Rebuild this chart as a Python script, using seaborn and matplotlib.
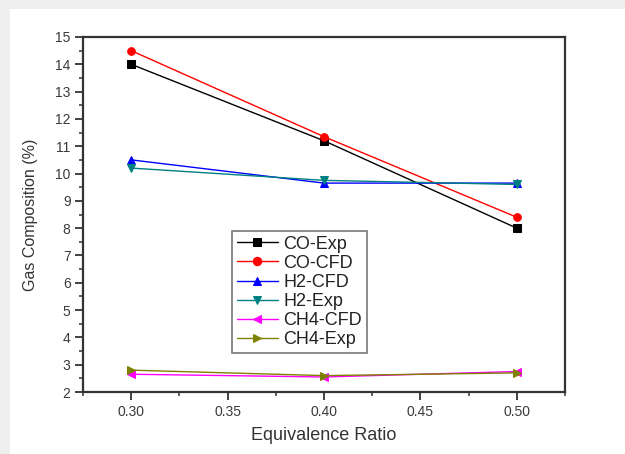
import matplotlib
matplotlib.use("Agg")
import matplotlib.pyplot as plt
import seaborn as sns
import pandas as pd
from matplotlib.ticker import MultipleLocator
from matplotlib.patches import Rectangle

equivalence_ratio = [0.30, 0.40, 0.50]
co_exp = [14.0, 11.2, 8.0]
co_cfd = [14.5, 11.35, 8.4]
h2_cfd = [10.5, 9.65, 9.65]
h2_exp = [10.2, 9.75, 9.6]
ch4_cfd = [2.65, 2.55, 2.75]
ch4_exp = [2.8, 2.6, 2.7]

series_names = ["CO-Exp", "CO-CFD", "H2-CFD", "H2-Exp", "CH4-CFD", "CH4-Exp"]
series_values = [co_exp, co_cfd, h2_cfd, h2_exp, ch4_cfd, ch4_exp]
colors = ["#000000", "#ff0000", "#0000ff", "#008080", "#ff00ff", "#808000"]
markers = ["s", "o", "^", "v", "<", ">"]

sns.set_style("white")
plt.rcParams["font.family"] = ["Liberation Sans", "DejaVu Sans"]

fig = plt.figure(figsize=(6.25, 4.54), dpi=100)
fig.patch.set_facecolor("#eeeeee")
bg = fig.add_axes([10 / 625, 0, 1, (454 - 9) / 454])
bg.set_axis_off()
bg.add_patch(Rectangle((0, 0), 1, 1, transform=bg.transAxes, facecolor="white", edgecolor="none"))
bg.set_zorder(0)

ax = fig.add_axes([83 / 625, (454 - 392) / 454, (565 - 83) / 625, (392 - 37) / 454])
ax.set_zorder(2)

rows = []
for name, vals in zip(series_names, series_values):
    for x, v in zip(equivalence_ratio, vals):
        rows.append({"Equivalence Ratio": x, "Value": v, "Series": name})
df = pd.DataFrame(rows)

for name, c, m in zip(series_names, colors, markers):
    sub = df[df["Series"] == name]
    sns.lineplot(data=sub, x="Equivalence Ratio", y="Value", ax=ax, color=c, marker=m,
                 markersize=5.5, markeredgecolor=c, linewidth=1.0, label=name)

ax.set_xlim(0.275, 0.525)
ax.set_ylim(2, 15)
ax.xaxis.set_major_locator(MultipleLocator(0.05))
ax.xaxis.set_minor_locator(MultipleLocator(0.025))
ax.yaxis.set_major_locator(MultipleLocator(1))
ax.yaxis.set_minor_locator(MultipleLocator(0.5))
ax.xaxis.set_major_formatter(matplotlib.ticker.FormatStrFormatter("%.2f"))
ax.tick_params(axis="both", which="major", direction="out", length=6, width=1.3,
               labelsize=10, colors="#333333", bottom=True, left=True, pad=3)
ax.tick_params(axis="both", which="minor", direction="out", length=3, width=1.1,
               bottom=True, left=True, colors="#333333")
for lbl in ax.get_xticklabels() + ax.get_yticklabels():
    lbl.set_color("#3a3a3a")
for s in ax.spines.values():
    s.set_color("#333333")
    s.set_linewidth(1.6)
ax.set_xlabel("Equivalence Ratio", fontsize=13, color="#333333", labelpad=6)
ax.set_ylabel("Gas Composition (%)", fontsize=11.5, color="#333333", labelpad=12)

leg = ax.legend(loc="upper left", bbox_to_anchor=((232 - 83) / 482, (392 - 231) / 355),
                frameon=True, fancybox=False, fontsize=13, handlelength=2.3,
                borderpad=0.25, labelspacing=0.12, handletextpad=0.3, borderaxespad=0,
                markerscale=1.1)
leg.get_frame().set_edgecolor("#555555")
leg.get_frame().set_linewidth(1.2)
for t in leg.get_texts():
    t.set_color("#222222")

fig.savefig("out.png", dpi=100, facecolor=fig.get_facecolor())
